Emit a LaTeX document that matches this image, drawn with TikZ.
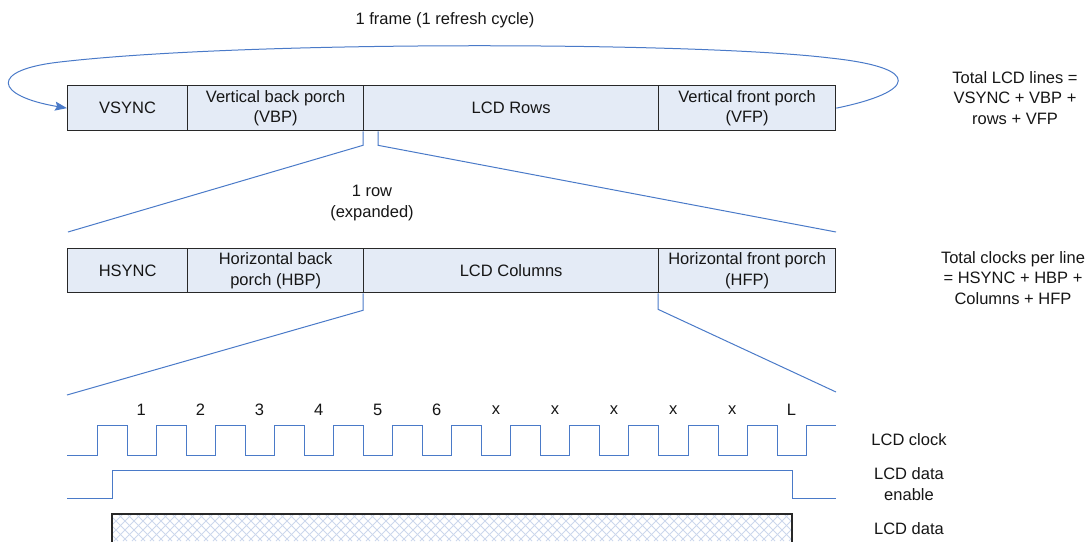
\documentclass[tikz,border=0pt]{standalone}
\usepackage{fontspec}
\setmainfont{Liberation Sans}
\usetikzlibrary{arrows.meta}
\definecolor{segfill}{RGB}{228,235,246}
\definecolor{segline}{RGB}{40,40,40}
\definecolor{wire}{RGB}{74,122,200}
\definecolor{hatch}{RGB}{204,215,236}
\definecolor{ink}{RGB}{22,22,22}
\newcommand\lblfont{\fontsize{16.5}{20.5}\selectfont}
\begin{document}
\begin{tikzpicture}[x=1pt,y=-1pt,
  lbl/.style={text=ink, align=center, font=\lblfont, inner sep=0pt},
  seg/.style={lbl, draw=segline, line width=1.3pt, fill=segfill,
              minimum height=45pt, anchor=north west},
  wire/.style={draw=wire, line width=1pt},
  hatchline/.style={draw=hatch, line width=0.9pt}]
\useasboundingbox (0,0) rectangle (1089,541);

% frame: vertical timing segments
\node[seg, minimum width=120pt] (vsync) at (67,85)  {VSYNC};
\node[seg, minimum width=176pt] (vbp)   at (187,85) {Vertical back porch\\(VBP)};
\node[seg, minimum width=295pt] (rows)  at (363,85) {LCD Rows};
\node[seg, minimum width=177pt] (vfp)   at (658,85) {Vertical front porch\\(VFP)};

\node[lbl] (frame) at (445,20) {1 frame (1 refresh cycle)};
\node[lbl] (totlines) at (1015,98) {Total LCD lines =\\VSYNC + VBP +\\rows + VFP};

% refresh loop back to the start of the frame
\draw[wire, -{Stealth[length=12pt,width=9pt,inset=2pt]}]
  (vfp.east) .. controls (915,92) and (925,68) .. (830,58)
  .. controls (700,42) and (250,40) .. (60,62)
  .. controls (-12,70) and (-5,96) .. (vsync.west);

% one row: horizontal timing segments
\node[seg, minimum height=44pt, minimum width=120pt] (hsync) at (67,248)  {HSYNC};
\node[seg, minimum height=44pt, minimum width=176pt] (hbp)   at (187,248) {Horizontal back\\porch (HBP)};
\node[seg, minimum height=44pt, minimum width=295pt] (cols)  at (363,248) {LCD Columns};
\node[seg, minimum height=44pt, minimum width=177pt] (hfp)   at (658,248) {Horizontal front porch\\(HFP)};

\node[lbl] (rowtxt) at (372,203) {1 row\\(expanded)};
\node[lbl] (totclk) at (1013,278) {Total clocks per line\\= HSYNC + HBP +\\Columns + HFP};

% expansion lines
\coordinate (fanTL) at (68,232);
\coordinate (fanTR) at (836,232);
\coordinate (fanBL) at (67,395);
\coordinate (fanBR) at (836,392);
\draw[wire] (rows.south west) -- ++(0,14) -- (fanTL);
\draw[wire] ([xshift=15pt]rows.south west) -- ++(0,14) -- (fanTR);
\draw[wire] (cols.south west) -- ++(0,17) -- (fanBL);
\draw[wire] (hfp.south west) -- ++(0,16) -- (fanBR);

% clock numbering
\foreach \t [count=\i from 0] in {1,2,3,4,5,6,x,x,x,x,x,L}
  \node[lbl] (ck\i) at ({141.3+59.1*\i},410) {\t};

% LCD clock
\draw[wire] (67,455)
  \foreach \k in {0,...,11} {
    -- ({97+59.1*\k},455) -- ({97+59.1*\k},425)
    -- ({127+59.1*\k},425) -- ({127+59.1*\k},455) }
  -- (806.2,455) -- (806.2,425) -- (836,425);

% LCD data enable
\draw[wire] (67,498) -- (112,498) -- (112,470) -- (792,470) -- (792,498) -- (836,498);

% LCD data (hatched)
\begin{scope}
  \clip (112,514) rectangle (792,541);
  \foreach \a in {60,69,...,800} {
    \draw[hatchline] (\a,541) -- (\a+40,501);
    \draw[hatchline] (\a,501) -- (\a+40,541);
  }
\end{scope}
\draw[segline, line width=1.3pt] (112,542) -- (112,514) -- (792,514) -- (792,542);

% signal names
\node[lbl] (sclk) at (909,440) {LCD clock};
\node[lbl] (sde)  at (909,484) {LCD data\\enable};
\node[lbl] (sdat) at (909,529) {LCD data};
\end{tikzpicture}
\end{document}
